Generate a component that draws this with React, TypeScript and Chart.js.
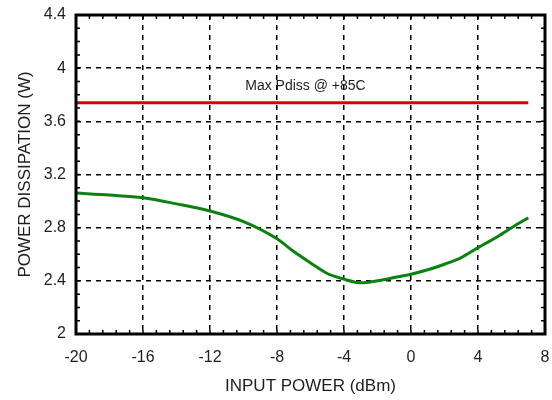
import React, { useEffect, useRef } from "react";
import { Chart, registerables } from "chart.js";

Chart.register(...registerables);

const inputPower = [-20, -18, -16, -14, -12, -10, -8, -7, -6, -5, -4, -3, -2, -1, 0, 1, 2, 3, 4, 5, 6, 7];
const powerDissipation = [3.06, 3.045, 3.025, 2.979, 2.925, 2.845, 2.716, 2.62, 2.535, 2.455, 2.413, 2.385, 2.4, 2.425, 2.45, 2.483, 2.525, 2.575, 2.65, 2.72, 2.8, 2.875];
const maxPdissX = [-20, 7];
const maxPdissY = [3.74, 3.74];
const maxLabelText = "Max Pdiss @ +85C";
const maxLabelAt = { x: -6.3, y: 3.867 };
const xTicks = { min: -20, max: 8, step: 4, minor: 0.8 };
const yTicks = { min: 2, max: 4.4, step: 0.4, minor: 0.1 };
const xTitle = "INPUT POWER (dBm)";
const yTitle = "POWER DISSIPATION (W)";

const FONT = "'Liberation Sans', Arial, Helvetica, sans-serif";
const TEXT = "#1e1e1e";

const framePlugin = {
  id: "framePlugin",
  afterDraw(chart: any) {
    const { ctx, chartArea: a, scales } = chart;
    const xs = scales.x;
    const ys = scales.y;
    ctx.save();
    ctx.fillStyle = TEXT;
    ctx.font = `14px ${FONT}`;
    ctx.textAlign = "center";
    ctx.textBaseline = "middle";
    ctx.fillText(maxLabelText, xs.getPixelForValue(maxLabelAt.x), ys.getPixelForValue(maxLabelAt.y));
    ctx.strokeStyle = "#000";
    ctx.lineWidth = 1.5;
    const len = 4;
    ctx.beginPath();
    const nx = Math.round((xTicks.max - xTicks.min) / xTicks.minor);
    for (let i = 1; i < nx; i++) {
      const v = xTicks.min + i * xTicks.minor;
      const px = xs.getPixelForValue(v);
      ctx.moveTo(px, a.bottom);
      ctx.lineTo(px, a.bottom - len);
      ctx.moveTo(px, a.top);
      ctx.lineTo(px, a.top + len);
    }
    const ny = Math.round((yTicks.max - yTicks.min) / yTicks.minor);
    for (let i = 1; i < ny; i++) {
      const v = yTicks.min + i * yTicks.minor;
      const py = ys.getPixelForValue(v);
      ctx.moveTo(a.left, py);
      ctx.lineTo(a.left + len, py);
      ctx.moveTo(a.right, py);
      ctx.lineTo(a.right - len, py);
    }
    ctx.stroke();
    ctx.lineWidth = 3;
    ctx.strokeRect(a.left, a.top, a.right - a.left, a.bottom - a.top);
    ctx.restore();
  },
};

export default function App() {
  const ref = useRef<HTMLCanvasElement | null>(null);
  useEffect(() => {
    if (!ref.current) return;
    const chart = new Chart(ref.current, {
      type: "line",
      data: {
        datasets: [
          {
            label: "Max",
            data: maxPdissX.map((x, i) => ({ x, y: maxPdissY[i] })),
            borderColor: "#d90000",
            borderWidth: 3,
            pointRadius: 0,
            fill: false,
          },
          {
            label: "Pdiss",
            data: inputPower.map((x, i) => ({ x, y: powerDissipation[i] })),
            borderColor: "#0a820f",
            borderWidth: 3,
            pointRadius: 0,
            fill: false,
            cubicInterpolationMode: "monotone",
          },
        ],
      },
      options: {
        animation: false,
        responsive: true,
        maintainAspectRatio: false,
        layout: { padding: { top: 15, right: 7, left: 0, bottom: 0 } },
        plugins: { legend: { display: false }, tooltip: { enabled: false } },
        scales: {
          x: {
            type: "linear",
            min: xTicks.min,
            max: xTicks.max,
            afterFit: (s: any) => {
              s.height = 66;
              s.paddingLeft = 0;
              s.paddingRight = 0;
            },
            ticks: {
              stepSize: xTicks.step,
              padding: 14,
              color: TEXT,
              font: { family: FONT, size: 16 },
            },
            grid: { color: "#000", lineWidth: 1.5, drawTicks: false },
            border: { display: false, dash: [5, 5] },
            title: {
              display: true,
              text: xTitle,
              color: TEXT,
              font: { family: FONT, size: 17 },
              padding: { top: 0, bottom: 3 },
            },
          },
          y: {
            type: "linear",
            min: yTicks.min,
            max: yTicks.max,
            afterFit: (s: any) => {
              s.width = 76;
              s.paddingTop = 0;
              s.paddingBottom = 0;
            },
            ticks: {
              stepSize: yTicks.step,
              padding: 10,
              color: TEXT,
              font: { family: FONT, size: 16 },
              callback: (v: any) => String(parseFloat(Number(v).toFixed(1))),
            },
            grid: { color: "#000", lineWidth: 1.5, drawTicks: false },
            border: { display: false, dash: [5, 5] },
            title: {
              display: true,
              text: yTitle,
              color: TEXT,
              font: { family: FONT, size: 17 },
              padding: { top: 15, bottom: 0 },
            },
          },
        },
      },
      plugins: [framePlugin],
    });
    return () => chart.destroy();
  }, []);
  return (
    <div style={{ position: "absolute", left: 0, top: 0, width: 552, height: 400 }}>
      <canvas ref={ref} />
    </div>
  );
}
